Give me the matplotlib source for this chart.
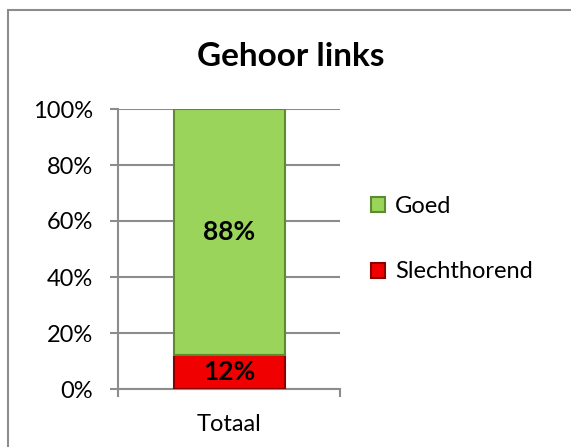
import matplotlib
matplotlib.use('Agg')
import matplotlib.pyplot as plt
from matplotlib.patches import Rectangle
from matplotlib.ticker import PercentFormatter

# data
categories = ['Totaal']
series     = ['Slechthorend', 'Goed']
values     = [12, 88]
colors     = ['#F00000', '#9AD45A']
edges      = ['#8A0000', '#5E8A30']

plt.rcParams['font.family'] = ['Lato', 'DejaVu Sans']

fig = plt.figure(figsize=(5.71, 4.47), dpi=100)
ax  = fig.add_axes([118/571, 58/447, 222/571, 280/447])

# outer chart border (runs off right and bottom like the screenshot)
fig.patches.append(Rectangle((8/571, -0.2), 1.2, 1.2 - 10/447,
                             transform=fig.transFigure, fill=False,
                             edgecolor='#8c8c8c', linewidth=1.5))

bottom = 0
bars = {}
for name, v, c, ec in zip(series, values, colors, edges):
    b = ax.bar(categories, [v], bottom=bottom, width=0.5, color=c,
               edgecolor=ec, linewidth=1.5, label=name, zorder=3)
    bars[name] = b
    ax.text(0, bottom + v/2, f'{v}%', ha='center', va='center',
            fontsize=19, fontweight='bold', zorder=4)
    bottom += v

ax.set_xlim(-0.5, 0.5)
ax.set_ylim(0, 100)
ax.set_yticks(range(0, 101, 20))
ax.yaxis.set_major_formatter(PercentFormatter(decimals=0))
ax.set_xticks([0])
ax.set_xticklabels(categories)
ax.set_xticks([-0.5, 0.5], minor=True)
ax.tick_params(axis='x', which='major', length=0, pad=18, labelsize=17)
ax.tick_params(axis='x', which='minor', length=6, width=1.5, color='#8c8c8c')
ax.tick_params(axis='y', length=6, width=1.5, color='#8c8c8c', labelsize=17, pad=12)

ax.grid(axis='y', color='#8c8c8c', linewidth=1.5, zorder=0)
for s in ['top', 'right']:
    ax.spines[s].set_visible(False)
for s in ['left', 'bottom']:
    ax.spines[s].set_color('#8c8c8c')
    ax.spines[s].set_linewidth(1.5)

fig.text(291/571, 1 - 56/447, 'Gehoor links', ha='center', va='center',
         fontsize=24, fontweight='bold')

handles = [bars['Goed'], bars['Slechthorend']]
fig.legend(handles, ['Goed', 'Slechthorend'], loc='center left',
           bbox_to_anchor=(350/571, 1 - 239/447), frameon=False,
           fontsize=17, handlelength=0.6, handleheight=0.6,
           handletextpad=0.4, labelspacing=1.9)

fig.savefig('out.png', dpi=100)
